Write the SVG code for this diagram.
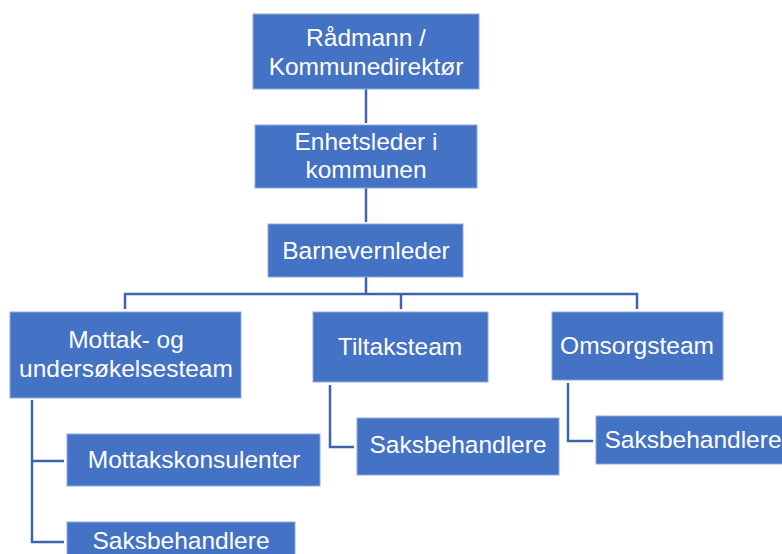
<svg xmlns="http://www.w3.org/2000/svg" width="782" height="554" viewBox="0 0 782 554">
  <style>
    .box { fill: #4472C4; stroke: #8FAADC; stroke-width: 1; }
    .lbl { fill: #FFFFFF; font-family: "Liberation Sans", Arial, sans-serif; font-size: 24.5px; text-anchor: middle; }
    .conn { fill: none; stroke: #3F64AE; stroke-width: 2.5; }
  </style>
  <rect width="782" height="554" fill="#FFFFFF"/>

  <g id="connectors">
    <path class="conn" d="M366 89 V123"/>
    <path class="conn" d="M366 188 V222"/>
    <path class="conn" d="M366 277 V294 M125 309 V294 H637 V309 M401 294 V309"/>
    <path class="conn" d="M32 400 V542 H64 M32 461 H64"/>
    <path class="conn" d="M330 385 V447 H354"/>
    <path class="conn" d="M568 383 V441 H593"/>
  </g>

  <g id="radmann">
    <rect class="box" x="253" y="14" width="226" height="75"/>
    <text class="lbl" x="366" y="46">Rådmann /</text>
    <text class="lbl" x="366" y="75">Kommunedirektør</text>
  </g>
  <g id="enhetsleder">
    <rect class="box" x="255" y="125" width="222" height="63"/>
    <text class="lbl" x="366" y="150">Enhetsleder i</text>
    <text class="lbl" x="366" y="178">kommunen</text>
  </g>
  <g id="barnevernleder">
    <rect class="box" x="268" y="224" width="195" height="53"/>
    <text class="lbl" x="366" y="259">Barnevernleder</text>
  </g>
  <g id="mottak">
    <rect class="box" x="10" y="312" width="231" height="86"/>
    <text class="lbl" x="126" y="348">Mottak- og</text>
    <text class="lbl" x="126" y="377">undersøkelsesteam</text>
  </g>
  <g id="tiltak">
    <rect class="box" x="313" y="312" width="175" height="70"/>
    <text class="lbl" x="400" y="355">Tiltaksteam</text>
  </g>
  <g id="omsorg">
    <rect class="box" x="552" y="312" width="171" height="68"/>
    <text class="lbl" x="637" y="354">Omsorgsteam</text>
  </g>
  <g id="mottakskonsulenter">
    <rect class="box" x="67" y="434" width="253" height="52"/>
    <text class="lbl" x="194" y="468">Mottakskonsulenter</text>
  </g>
  <g id="saksbehandlere-mottak">
    <rect class="box" x="67" y="522" width="228" height="40"/>
    <text class="lbl" x="181" y="549">Saksbehandlere</text>
  </g>
  <g id="saksbehandlere-tiltak">
    <rect class="box" x="357" y="418" width="202" height="57"/>
    <text class="lbl" x="458" y="453">Saksbehandlere</text>
  </g>
  <g id="saksbehandlere-omsorg">
    <rect class="box" x="596" y="416" width="190" height="48"/>
    <text class="lbl" x="693" y="448">Saksbehandlere</text>
  </g>
</svg>
